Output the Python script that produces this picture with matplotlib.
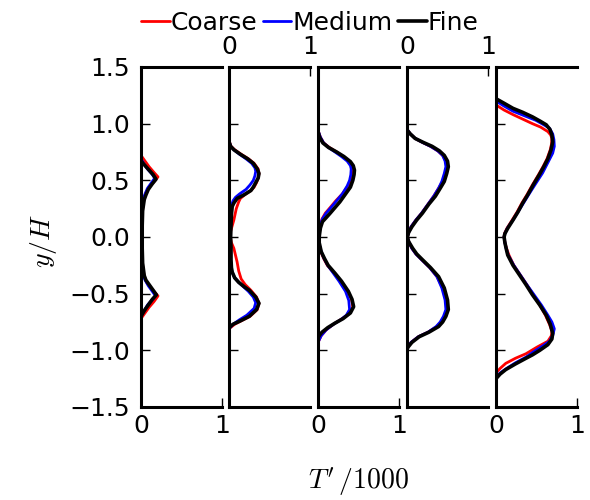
import matplotlib
matplotlib.use("Agg")
import matplotlib.pyplot as plt

plt.rcParams['font.family'] = ['DejaVu Sans']
plt.rcParams['mathtext.fontset'] = 'cm'
plt.rcParams['axes.unicode_minus'] = True

series_names = ["Coarse", "Medium", "Fine"]
series_colors = ["red", "blue", "black"]

# ---- data: y/H and T'/1000 per panel, per series ----
# Panel 1
p1_coarse_y = [1.5, 0.72, 0.67, 0.62, 0.57, 0.53, 0.48, 0.44, 0.39, 0.35, 0.25, 0.0,
               -0.25, -0.35, -0.40, -0.44, -0.48, -0.52, -0.57, -0.62, -0.67, -0.72, -1.5]
p1_coarse_x = [0.0, 0.0, 0.05, 0.10, 0.16, 0.21, 0.15, 0.10, 0.06, 0.04, 0.02, 0.015,
               0.02, 0.04, 0.07, 0.11, 0.16, 0.21, 0.16, 0.10, 0.05, 0.0, 0.0]
p1_medium_y = [1.5, 0.69, 0.64, 0.60, 0.56, 0.52, 0.47, 0.43, 0.38, 0.34, 0.24, 0.0,
               -0.24, -0.34, -0.38, -0.43, -0.47, -0.52, -0.56, -0.60, -0.65, -0.70, -1.5]
p1_medium_x = [0.0, 0.0, 0.04, 0.08, 0.13, 0.17, 0.12, 0.08, 0.05, 0.03, 0.015, 0.01,
               0.015, 0.03, 0.05, 0.09, 0.13, 0.18, 0.13, 0.08, 0.04, 0.0, 0.0]
p1_fine_y = [1.5, 0.67, 0.63, 0.59, 0.55, 0.51, 0.47, 0.42, 0.37, 0.33, 0.23, 0.1, 0.0,
             -0.1, -0.23, -0.34, -0.38, -0.42, -0.47, -0.51, -0.55, -0.60, -0.65, -0.70, -1.5]
p1_fine_x = [0.0, 0.0, 0.05, 0.10, 0.15, 0.185, 0.14, 0.09, 0.06, 0.04, 0.02, 0.015, 0.015,
             0.015, 0.02, 0.04, 0.06, 0.10, 0.15, 0.19, 0.14, 0.09, 0.04, 0.0, 0.0]

# Panel 2
p2_coarse_y = [1.5, 0.85, 0.80, 0.77, 0.73, 0.69, 0.65, 0.60, 0.56, 0.52, 0.48, 0.44, 0.41,
               0.37, 0.34, 0.31, 0.25, 0.15, 0.05, 0.0, -0.05, -0.10, -0.22, -0.30, -0.37,
               -0.42, -0.47, -0.53, -0.585, -0.64, -0.70, -0.74, -0.77, -0.81, -1.5]
p2_coarse_x = [0.0, 0.0, 0.025, 0.07, 0.15, 0.24, 0.31, 0.36, 0.37, 0.36, 0.34, 0.31, 0.27,
               0.19, 0.14, 0.12, 0.09, 0.06, 0.02, 0.015, 0.03, 0.06, 0.10, 0.12, 0.15,
               0.20, 0.27, 0.34, 0.37, 0.35, 0.26, 0.15, 0.07, 0.0, 0.0]
p2_medium_y = [1.5, 0.85, 0.80, 0.77, 0.73, 0.69, 0.65, 0.61, 0.58, 0.54, 0.50, 0.46, 0.42,
               0.38, 0.35, 0.32, 0.28, 0.20, 0.0, -0.20, -0.28, -0.32, -0.36, -0.40, -0.44,
               -0.48, -0.53, -0.58, -0.63, -0.69, -0.73, -0.77, -0.81, -1.5]
p2_medium_x = [0.0, 0.0, 0.02, 0.06, 0.13, 0.21, 0.28, 0.32, 0.33, 0.32, 0.30, 0.26, 0.21,
               0.13, 0.08, 0.05, 0.03, 0.015, 0.01, 0.015, 0.025, 0.045, 0.07, 0.12, 0.18,
               0.24, 0.30, 0.33, 0.31, 0.22, 0.13, 0.05, 0.0, 0.0]
p2_fine_y = [1.5, 0.84, 0.80, 0.77, 0.73, 0.69, 0.65, 0.60, 0.56, 0.52, 0.48, 0.44, 0.41,
             0.37, 0.34, 0.30, 0.27, 0.20, 0.10, 0.0, -0.10, -0.20, -0.27, -0.31, -0.36,
             -0.40, -0.44, -0.47, -0.53, -0.585, -0.64, -0.70, -0.74, -0.77, -0.80, -1.5]
p2_fine_x = [0.0, 0.0, 0.02, 0.06, 0.14, 0.23, 0.30, 0.35, 0.37, 0.36, 0.33, 0.30, 0.27,
             0.18, 0.10, 0.06, 0.04, 0.03, 0.025, 0.02, 0.025, 0.025, 0.03, 0.04, 0.07,
             0.12, 0.19, 0.25, 0.33, 0.37, 0.34, 0.25, 0.14, 0.05, 0.0, 0.0]

# Panel 3
p3_coarse_y = [1.5, 0.94, 0.88, 0.83, 0.79, 0.75, 0.71, 0.67, 0.63, 0.60, 0.55, 0.50, 0.45,
               0.38, 0.32, 0.26, 0.21, 0.16, 0.10, 0.03, -0.05, -0.13, -0.19, -0.25, -0.32,
               -0.39, -0.48, -0.55, -0.62, -0.68, -0.72, -0.77, -0.82, -0.87, -0.93, -1.5]
p3_coarse_x = [0.0, 0.0, 0.03, 0.07, 0.14, 0.23, 0.31, 0.38, 0.42, 0.43, 0.425, 0.41, 0.37,
               0.30, 0.22, 0.15, 0.09, 0.05, 0.025, 0.01, 0.01, 0.035, 0.07, 0.115, 0.20,
               0.28, 0.37, 0.415, 0.43, 0.38, 0.30, 0.19, 0.10, 0.04, 0.0, 0.0]
p3_medium_y = [1.5, 0.94, 0.88, 0.83, 0.79, 0.75, 0.71, 0.67, 0.63, 0.60, 0.55, 0.50, 0.45,
               0.38, 0.32, 0.26, 0.21, 0.16, 0.10, 0.03, -0.05, -0.13, -0.19, -0.25, -0.32,
               -0.39, -0.48, -0.56, -0.64, -0.69, -0.73, -0.77, -0.82, -0.87, -0.93, -1.5]
p3_medium_x = [0.0, 0.0, 0.03, 0.07, 0.13, 0.21, 0.29, 0.36, 0.40, 0.41, 0.405, 0.39, 0.36,
               0.30, 0.23, 0.16, 0.10, 0.055, 0.025, 0.01, 0.01, 0.04, 0.075, 0.12, 0.19,
               0.26, 0.34, 0.38, 0.39, 0.35, 0.28, 0.19, 0.10, 0.04, 0.0, 0.0]
p3_fine_y = [1.5, 0.93, 0.88, 0.83, 0.79, 0.75, 0.71, 0.665, 0.63, 0.59, 0.55, 0.50, 0.44,
             0.38, 0.31, 0.26, 0.21, 0.17, 0.135, 0.08, 0.03, 0.0, -0.05, -0.13, -0.19, -0.25,
             -0.32, -0.39, -0.48, -0.55, -0.615, -0.67, -0.72, -0.76, -0.80, -0.84, -0.865,
             -0.89, -1.5]
p3_fine_x = [0.0, 0.0, 0.02, 0.06, 0.13, 0.23, 0.32, 0.40, 0.435, 0.45, 0.445, 0.43, 0.40,
             0.34, 0.27, 0.21, 0.15, 0.10, 0.055, 0.03, 0.02, 0.015, 0.015, 0.04, 0.08, 0.125,
             0.21, 0.29, 0.375, 0.42, 0.44, 0.40, 0.31, 0.21, 0.12, 0.05, 0.02, 0.0, 0.0]

# Panel 4
p4_coarse_y = [1.5, 0.95, 0.91, 0.87, 0.835, 0.80, 0.76, 0.72, 0.67, 0.62, 0.56, 0.49, 0.43,
               0.36, 0.29, 0.21, 0.15, 0.09, 0.04, 0.0, -0.04, -0.10, -0.15, -0.20, -0.27,
               -0.35, -0.45, -0.556, -0.64, -0.70, -0.75, -0.79, -0.84, -0.88, -0.93, -0.97,
               -0.99, -1.5]
p4_coarse_x = [0.0, 0.0, 0.04, 0.10, 0.19, 0.29, 0.38, 0.44, 0.48, 0.49, 0.47, 0.44, 0.39,
               0.33, 0.26, 0.18, 0.11, 0.05, 0.02, 0.005, 0.02, 0.06, 0.11, 0.18, 0.28,
               0.37, 0.44, 0.48, 0.49, 0.46, 0.42, 0.37, 0.26, 0.14, 0.05, 0.01, 0.0, 0.0]
p4_medium_y = [1.5, 0.95, 0.91, 0.87, 0.835, 0.80, 0.76, 0.72, 0.67, 0.62, 0.56, 0.49, 0.43,
               0.36, 0.29, 0.21, 0.15, 0.09, 0.04, 0.0, -0.04, -0.10, -0.15, -0.20, -0.27,
               -0.35, -0.45, -0.556, -0.64, -0.70, -0.75, -0.79, -0.84, -0.88, -0.93, -0.97,
               -0.99, -1.5]
p4_medium_x = [0.0, 0.0, 0.04, 0.10, 0.19, 0.29, 0.38, 0.44, 0.47, 0.48, 0.46, 0.43, 0.39,
               0.33, 0.26, 0.18, 0.11, 0.05, 0.02, 0.005, 0.02, 0.06, 0.11, 0.18, 0.28,
               0.37, 0.43, 0.47, 0.48, 0.45, 0.41, 0.36, 0.26, 0.14, 0.05, 0.01, 0.0, 0.0]
p4_fine_y = [1.5, 0.944, 0.91, 0.87, 0.835, 0.80, 0.76, 0.72, 0.67, 0.62, 0.56, 0.49, 0.43,
             0.36, 0.29, 0.21, 0.15, 0.09, 0.04, 0.0, -0.04, -0.10, -0.15, -0.20, -0.27,
             -0.35, -0.45, -0.556, -0.64, -0.70, -0.75, -0.79, -0.84, -0.88, -0.93, -0.97,
             -0.99, -1.5]
p4_fine_x = [0.0, 0.0, 0.04, 0.10, 0.20, 0.31, 0.40, 0.46, 0.50, 0.51, 0.49, 0.46, 0.41,
             0.35, 0.27, 0.19, 0.12, 0.06, 0.02, 0.005, 0.02, 0.07, 0.12, 0.19, 0.29,
             0.39, 0.46, 0.50, 0.51, 0.48, 0.44, 0.39, 0.27, 0.15, 0.06, 0.015, 0.0, 0.0]

# Panel 5
p5_coarse_y = [1.5, 1.165, 1.12, 1.08, 1.04, 1.00, 0.97, 0.93, 0.90, 0.87, 0.82, 0.77, 0.69,
               0.62, 0.55, 0.46, 0.37, 0.30, 0.22, 0.15, 0.077, 0.03, 0.0, -0.05, -0.10, -0.16,
               -0.25, -0.335, -0.42, -0.51, -0.60, -0.69, -0.77, -0.83, -0.87, -0.92, -0.97,
               -1.03, -1.07, -1.115, -1.16, -1.20, -1.5]
p5_coarse_x = [0.0, 0.0, 0.10, 0.21, 0.33, 0.45, 0.55, 0.64, 0.675, 0.69, 0.685, 0.67, 0.63,
               0.58, 0.525, 0.45, 0.38, 0.32, 0.26, 0.20, 0.135, 0.105, 0.10, 0.11, 0.13, 0.16,
               0.22, 0.30, 0.38, 0.46, 0.54, 0.61, 0.66, 0.69, 0.685, 0.64, 0.51,
               0.37, 0.24, 0.12, 0.05, 0.0, 0.0]
p5_medium_y = [1.5, 1.20, 1.155, 1.11, 1.07, 1.03, 0.99, 0.96, 0.91, 0.86, 0.80, 0.74, 0.67,
               0.565, 0.46, 0.37, 0.30, 0.22, 0.15, 0.077, 0.03, 0.0, -0.05, -0.10, -0.16,
               -0.25, -0.335, -0.42, -0.51, -0.60, -0.69, -0.75, -0.81, -0.87, -0.92, -0.96,
               -1.01, -1.06, -1.11, -1.16, -1.20, -1.24, -1.5]
p5_medium_x = [0.0, 0.0, 0.10, 0.21, 0.35, 0.49, 0.59, 0.66, 0.70, 0.715, 0.72, 0.70, 0.65,
               0.575, 0.48, 0.40, 0.34, 0.27, 0.21, 0.14, 0.11, 0.10, 0.11, 0.125, 0.15,
               0.22, 0.30, 0.38, 0.47, 0.56, 0.64, 0.69, 0.72, 0.70, 0.66, 0.58,
               0.47, 0.37, 0.24, 0.13, 0.05, 0.0, 0.0]
p5_fine_y = [1.5, 1.22, 1.18, 1.135, 1.10, 1.06, 1.02, 0.99, 0.95, 0.90, 0.84, 0.77, 0.69,
             0.62, 0.55, 0.46, 0.37, 0.30, 0.22, 0.15, 0.077, 0.03, 0.0, -0.05, -0.10, -0.16,
             -0.25, -0.335, -0.42, -0.51, -0.60, -0.69, -0.77, -0.85, -0.90, -0.95, -1.00,
             -1.04, -1.07, -1.12, -1.17, -1.21, -1.25, -1.5]
p5_fine_x = [0.0, 0.0, 0.10, 0.21, 0.33, 0.45, 0.55, 0.62, 0.665, 0.69, 0.70, 0.68, 0.64,
             0.59, 0.535, 0.46, 0.39, 0.33, 0.27, 0.21, 0.145, 0.11, 0.10, 0.11, 0.125, 0.145,
             0.21, 0.29, 0.37, 0.45, 0.54, 0.62, 0.67, 0.70, 0.69, 0.64, 0.54,
             0.45, 0.37, 0.24, 0.12, 0.05, 0.0, 0.0]

panels = [
    [(p1_coarse_x, p1_coarse_y), (p1_medium_x, p1_medium_y), (p1_fine_x, p1_fine_y)],
    [(p2_coarse_x, p2_coarse_y), (p2_medium_x, p2_medium_y), (p2_fine_x, p2_fine_y)],
    [(p3_coarse_x, p3_coarse_y), (p3_medium_x, p3_medium_y), (p3_fine_x, p3_fine_y)],
    [(p4_coarse_x, p4_coarse_y), (p4_medium_x, p4_medium_y), (p4_fine_x, p4_fine_y)],
    [(p5_coarse_x, p5_coarse_y), (p5_medium_x, p5_medium_y), (p5_fine_x, p5_fine_y)],
]

y_ticks = [-1.5, -1.0, -0.5, 0.0, 0.5, 1.0, 1.5]
x_ticks = [0, 1]

fig = plt.figure(figsize=(5.9, 5.0), dpi=100)
W, H = 590.0, 500.0
lefts_px = [141, 229, 318, 407, 496]
width_px = 81
top_px, bot_px = 67, 407

handles = []
for i, (left, data) in enumerate(zip(lefts_px, panels)):
    ax = fig.add_axes([left / W, 1 - bot_px / H, width_px / W, (bot_px - top_px) / H])
    for (xs, ys), c, name in zip(data, series_colors, series_names):
        lw = 2.6 if c == "black" else 2.0
        ln, = ax.plot(xs, ys, color=c, lw=lw, label=name,
                      solid_capstyle='round', solid_joinstyle='round')
        if i == 0:
            handles.append(ln)
    ax.set_xlim(0, 1)
    ax.set_ylim(-1.5, 1.5)
    ax.spines['right'].set_visible(False)
    for s in ['left', 'top', 'bottom']:
        ax.spines[s].set_linewidth(2.2)
    ax.set_yticks(y_ticks)
    ax.set_xticks(x_ticks)
    ax.yaxis.set_ticks_position('left')
    ax.tick_params(axis='y', direction='in', length=6.5, width=1.0, labelsize=18, pad=8)
    if i % 2 == 0:
        ax.xaxis.set_ticks_position('bottom')
        ax.tick_params(axis='x', direction='in', length=6.5, width=1.0, labelsize=18, pad=5)
    else:
        ax.xaxis.set_ticks_position('top')
        ax.tick_params(axis='x', direction='in', length=6.5, width=1.0, labelsize=18, pad=6,
                       labeltop=True, labelbottom=False)
    if i == 0:
        ax.set_yticklabels([f"{v:.1f}".replace('-', '\u2212') for v in y_ticks])
    else:
        ax.tick_params(axis='y', labelleft=False)

fig.legend(handles=handles, labels=series_names, loc='center', bbox_to_anchor=(0.525, 0.955),
           ncol=3, frameon=False, fontsize=18, handlelength=1.15, handletextpad=0.05,
           columnspacing=0.2, borderaxespad=0, borderpad=0)

fig.text(0.607, 0.036, r"$T^{\prime}\,/1000$", fontsize=20, ha='center', va='center')
fig.text(0.073, 0.518, r"$y/H$", fontsize=20, ha='center', va='center', rotation=90)

fig.savefig("out.png", dpi=100)
